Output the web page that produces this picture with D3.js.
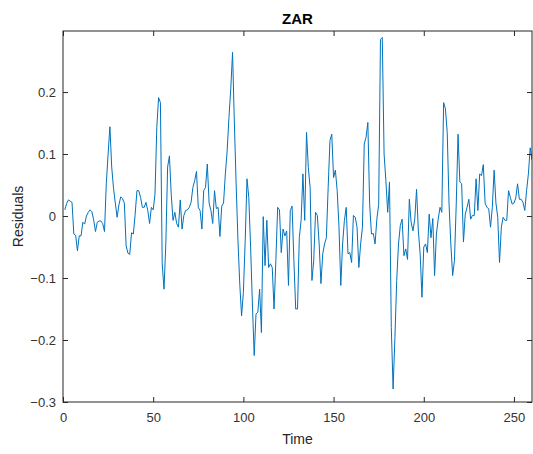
<!DOCTYPE html>
<html>
<head>
<meta charset="utf-8">
<script src="https://cdn.jsdelivr.net/npm/d3@7"></script>
<style>
  body { margin: 0; background: #fff; }
  svg { display: block; font-family: "Liberation Sans", Arial, sans-serif; }
</style>
</head>
<body>
<div id="chart"></div>
<script>
// residuals, one per time step (t = 1..260)
var residuals = [
  0.010, 0.020, 0.026, 0.024, 0.022, -0.029, -0.031, -0.056, -0.032, -0.032,
  -0.010, -0.013, 0.000, 0.006, 0.010, 0.007, -0.006, -0.025, -0.010, -0.008,
  -0.008, -0.012, -0.025, 0.052, 0.100, 0.144, 0.079, 0.045, 0.021, -0.002,
  0.018, 0.031, 0.028, 0.021, -0.048, -0.060, -0.062, -0.027, -0.029, 0.003,
  0.041, 0.041, 0.030, 0.014, 0.014, 0.022, 0.009, -0.012, 0.014, 0.010,
  0.035, 0.143, 0.191, 0.183, -0.077, -0.118, -0.045, 0.079, 0.097, 0.035,
  -0.007, 0.006, -0.012, -0.018, 0.026, -0.021, 0.001, 0.009, 0.010, 0.014,
  0.022, 0.046, 0.057, 0.072, 0.014, 0.009, -0.021, 0.041, 0.046, 0.084,
  0.021, 0.009, -0.012, 0.041, 0.012, 0.014, -0.033, 0.016, 0.021, 0.068,
  0.105, 0.159, 0.205, 0.264, 0.150, 0.050, -0.040, -0.110, -0.161, -0.123,
  -0.040, 0.060, 0.030, -0.050, -0.142, -0.225, -0.158, -0.155, -0.118, -0.188,
  -0.001, -0.080, -0.007, -0.083, -0.077, -0.083, -0.150, -0.072, 0.014, 0.010,
  -0.059, -0.021, -0.032, -0.024, -0.112, 0.009, 0.016, -0.072, -0.150, -0.150,
  -0.035, -0.007, 0.068, -0.007, 0.135, 0.078, 0.046, -0.104, -0.072, 0.006,
  0.001, -0.045, -0.109, -0.061, -0.045, -0.035, 0.046, 0.122, 0.132, 0.062,
  0.074, 0.041, -0.018, -0.112, -0.045, -0.007, 0.014, -0.061, -0.059, -0.075,
  0.001, -0.002, -0.018, -0.083, -0.045, -0.018, 0.116, 0.127, 0.151, 0.019,
  -0.029, -0.028, -0.045, -0.005, 0.019, 0.285, 0.288, 0.100, 0.057, 0.006,
  0.055, -0.180, -0.279, -0.196, -0.104, -0.045, -0.015, -0.005, -0.064, -0.053,
  -0.070, 0.027, -0.010, -0.024, -0.005, 0.043, -0.024, -0.061, -0.131, -0.050,
  -0.045, -0.059, 0.003, -0.035, -0.004, -0.096, -0.029, -0.005, 0.014, 0.006,
  0.183, 0.173, 0.135, 0.021, -0.045, -0.096, -0.072, 0.019, 0.132, 0.055,
  0.052, -0.042, 0.003, 0.014, 0.027, -0.005, 0.001, 0.001, 0.060, 0.009,
  0.068, 0.065, 0.083, 0.021, 0.014, 0.012, -0.018, 0.014, 0.074, 0.021,
  -0.002, -0.075, -0.018, -0.002, -0.007, -0.007, 0.041, 0.030, 0.019, 0.021,
  0.029, 0.052, 0.027, 0.027, 0.022, 0.009, 0.041, 0.068, 0.110, 0.090
];
var xTicks = [0, 50, 100, 150, 200, 250];
var yTicks = [-0.3, -0.2, -0.1, 0, 0.1, 0.2];
var title = "ZAR";
var xLabel = "Time";
var yLabel = "Residuals";

var width = 533, height = 454;
var margin = {left: 63, right: 1, top: 31, bottom: 52};
var axisColor = "#262626";

var svg = d3.select("#chart").append("svg")
    .attr("width", width)
    .attr("height", height);

// scales
var x = d3.scaleLinear()
    .domain([0, 260])
    .range([margin.left, width - margin.right]);
var y = d3.scaleLinear()
    .domain([-0.3, 0.2985])
    .range([height - margin.bottom, margin.top]);

// clip so the line stays inside the box
svg.append("clipPath").attr("id", "plotClip")
  .append("rect")
    .attr("x", x(0)).attr("y", y(0.2985))
    .attr("width", x(260) - x(0)).attr("height", y(-0.3) - y(0.2985));

// residual line
var line = d3.line()
    .x(function (d, i) { return x(i + 1); })
    .y(function (d) { return y(d); });

svg.append("path")
    .datum(residuals)
    .attr("clip-path", "url(#plotClip)")
    .attr("fill", "none")
    .attr("stroke", "#0072BD")
    .attr("stroke-width", 1)
    .attr("stroke-linejoin", "round")
    .attr("d", line);

// axes, ticks pointing inward like matlab
function styleAxis(g) {
  g.select(".domain").remove();
  g.selectAll(".tick line").attr("stroke", axisColor);
  g.selectAll(".tick text")
      .attr("fill", "#333")
      .style("font-size", "13px");
}

svg.append("g")
    .attr("transform", "translate(0," + y(-0.3) + ")")
    .call(d3.axisBottom(x).tickValues(xTicks).tickSize(-5).tickPadding(11)
      .tickFormat(d3.format("d")))
    .call(styleAxis);

svg.append("g")
    .attr("transform", "translate(0," + y(0.2985) + ")")
    .call(d3.axisTop(x).tickValues(xTicks).tickSize(-5).tickFormat(""))
    .call(styleAxis);

svg.append("g")
    .attr("transform", "translate(" + x(0) + ",0)")
    .call(d3.axisLeft(y).tickValues(yTicks).tickSize(-5).tickPadding(7)
      .tickFormat(function (d) { return d === 0 ? "0" : d3.format(".1f")(d); }))
    .call(styleAxis);

svg.append("g")
    .attr("transform", "translate(" + x(260) + ",0)")
    .call(d3.axisRight(y).tickValues(yTicks).tickSize(-5).tickFormat(""))
    .call(styleAxis);

// box
svg.append("rect")
    .attr("x", x(0)).attr("y", y(0.2985))
    .attr("width", x(260) - x(0)).attr("height", y(-0.3) - y(0.2985))
    .attr("fill", "none")
    .attr("stroke", axisColor)
    .attr("stroke-width", 1);

// title and labels
svg.append("text")
    .attr("x", (x(0) + x(260)) / 2).attr("y", 24)
    .attr("text-anchor", "middle")
    .attr("fill", "#000")
    .style("font-size", "15px").style("font-weight", "bold")
    .text(title);

svg.append("text")
    .attr("x", (x(0) + x(260)) / 2).attr("y", 444)
    .attr("text-anchor", "middle")
    .attr("fill", "#262626")
    .style("font-size", "14px")
    .text(xLabel);

svg.append("text")
    .attr("transform", "translate(23," + (y(-0.3) + y(0.2985)) / 2 + ") rotate(-90)")
    .attr("text-anchor", "middle")
    .attr("fill", "#262626")
    .style("font-size", "14px")
    .text(yLabel);
</script>
</body>
</html>
